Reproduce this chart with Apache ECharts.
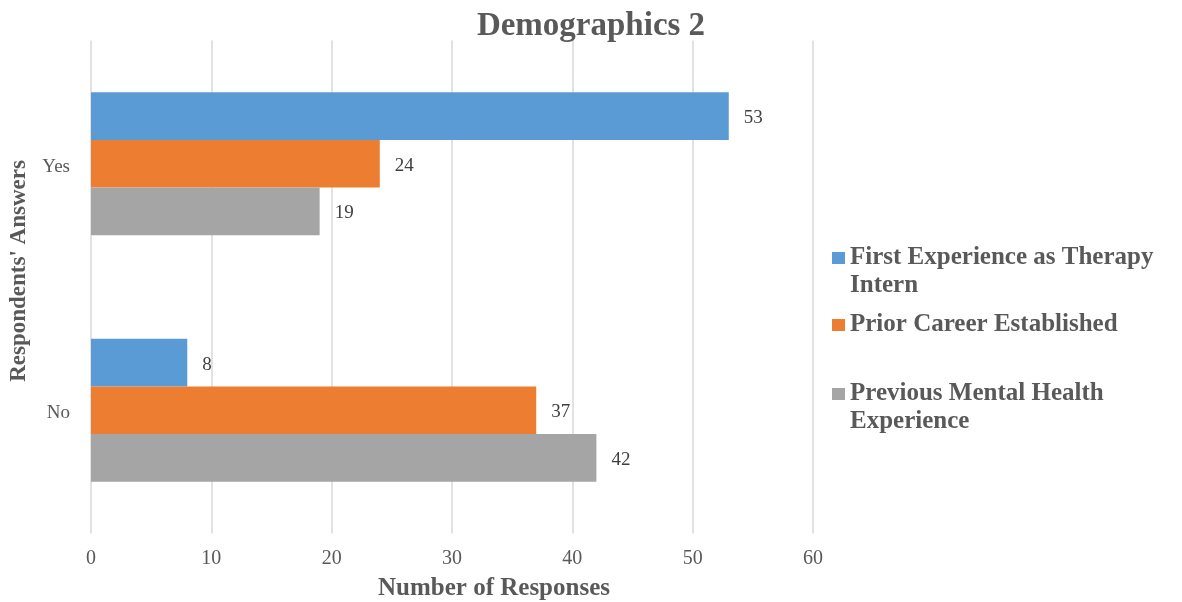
<!DOCTYPE html>
<html>
<head>
<meta charset="utf-8">
<script src="https://cdn.jsdelivr.net/npm/echarts@6/dist/echarts.min.js"></script>
<style>
  html, body { margin: 0; padding: 0; background: #ffffff; }
  #chart { width: 1182px; height: 602px; }
</style>
</head>
<body>
<div id="chart"></div>
<script>
// Answers on the category axis, top to bottom
const categories = ['Yes', 'No'];

// Response counts per question
const firstExperience = [53, 8];
const priorCareer = [24, 37];
const previousMentalHealth = [19, 42];

const seriesNames = [
  'First Experience as Therapy Intern',
  'Prior Career Established',
  'Previous Mental Health Experience'
];
// Wrapped legend captions; a blank leading line keeps the swatch beside the first line
const legendCaptions = {
  'First Experience as Therapy Intern': ' \nFirst Experience as Therapy\nIntern',
  'Prior Career Established': 'Prior Career Established',
  'Previous Mental Health Experience': ' \nPrevious Mental Health\nExperience'
};

const xTicks = { min: 0, max: 60, interval: 10 };

const colors = ['#5b9bd5', '#ed7d31', '#a5a5a5'];
const serif = '"Liberation Serif", "Times New Roman", serif';
const textGrey = '#595959';

const chart = echarts.init(document.getElementById('chart'), null, { renderer: 'canvas' });

function legendAt(name, top) {
  return {
    show: true,
    orient: 'vertical',
    left: 832,
    top: top,
    padding: 0,
    itemWidth: 13,
    itemHeight: 12,
    itemGap: 0,
    icon: 'rect',
    data: [name],
    formatter: n => legendCaptions[n],
    textStyle: {
      fontFamily: serif,
      fontWeight: 'bold',
      fontSize: 25,
      lineHeight: 28,
      color: textGrey
    }
  };
}

function barSeries(name, values, color) {
  return {
    name: name,
    type: 'bar',
    data: values,
    barGap: '0%',
    barCategoryGap: '42%',
    itemStyle: { color: color },
    label: {
      show: true,
      position: 'right',
      distance: 15,
      offset: [0, 2],
      fontFamily: serif,
      fontSize: 19,
      color: '#404040'
    }
  };
}

chart.setOption({
  backgroundColor: '#ffffff',
  animation: false,
  color: colors,
  title: {
    text: 'Demographics 2',
    left: 'center',
    top: 5,
    textStyle: {
      fontFamily: serif,
      fontWeight: 'bold',
      fontSize: 33,
      color: textGrey
    }
  },
  legend: [
    legendAt(seriesNames[0], 216),
    legendAt(seriesNames[1], 311),
    legendAt(seriesNames[2], 352)
  ],
  grid: {
    left: 91,
    right: 369,
    top: 40.5,
    bottom: 68.5,
    containLabel: false,
    outerBoundsMode: 'none'
  },
  xAxis: {
    type: 'value',
    min: xTicks.min,
    max: xTicks.max,
    interval: xTicks.interval,
    name: 'Number of Responses',
    nameLocation: 'middle',
    nameGap: 43,
    nameTextStyle: {
      fontFamily: serif,
      fontWeight: 'bold',
      fontSize: 25,
      color: textGrey,
      padding: [0, 0, 0, 84]
    },
    axisLine: { show: false },
    axisTick: { show: false },
    axisLabel: {
      fontFamily: serif,
      fontSize: 20,
      color: textGrey,
      margin: 15
    },
    splitLine: { show: true, lineStyle: { color: '#d9d9d9', width: 1.5 } }
  },
  yAxis: {
    type: 'category',
    data: categories,
    inverse: true,
    name: "Respondents' Answers",
    nameLocation: 'middle',
    nameGap: 60,
    nameRotate: 90,
    nameTextStyle: {
      fontFamily: serif,
      fontWeight: 'bold',
      fontSize: 23,
      color: textGrey,
      padding: [0, 0, 0, 32]
    },
    axisLine: { show: false },
    axisTick: { show: false },
    axisLabel: {
      fontFamily: serif,
      fontSize: 19,
      color: textGrey,
      margin: 21,
      verticalAlign: 'top',
      lineHeight: 6
    },
    splitLine: { show: false }
  },
  series: [
    barSeries(seriesNames[0], firstExperience, colors[0]),
    barSeries(seriesNames[1], priorCareer, colors[1]),
    barSeries(seriesNames[2], previousMentalHealth, colors[2])
  ]
});
</script>
</body>
</html>
